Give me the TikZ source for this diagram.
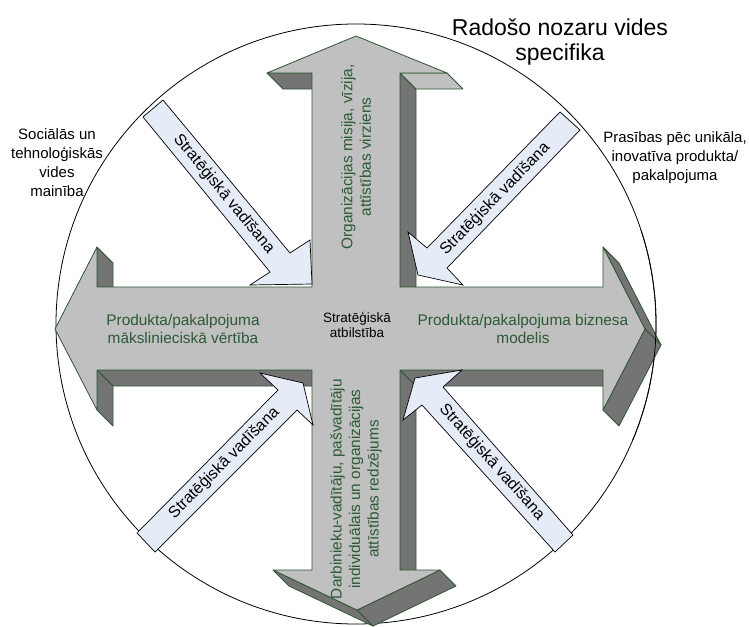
\documentclass[tikz,border=0pt]{standalone}
\usepackage{fontspec}
\setmainfont{Liberation Sans}
\definecolor{facelight}{HTML}{C0C0C0}
\definecolor{facedark}{HTML}{747474}
\definecolor{edgegreen}{HTML}{2F5535}
\definecolor{textgreen}{HTML}{2C5A36}
\definecolor{guideblue}{HTML}{E6ECF7}
\begin{document}
\begin{tikzpicture}[x=1pt,y=-1pt,
  front/.style={fill=facelight, draw=edgegreen, line width=0.8pt, line join=round},
  side/.style={fill=facedark, draw=edgegreen, line width=0.8pt, line join=round},
  sidelight/.style={fill=facelight, draw=edgegreen, line width=0.8pt, line join=round},
  guide/.style={fill=guideblue, draw=black, line width=0.7pt, line join=miter},
  ring/.style={draw=black, line width=0.8pt},
  guidelabel/.style={font=\fontsize{16}{19}\selectfont, inner sep=0pt},
  greenlabel/.style={text=textgreen, font=\fontsize{15.4}{18.5}\selectfont, align=center, inner sep=0pt},
  plainlabel/.style={font=\fontsize{15}{19}\selectfont, align=center, inner sep=0pt}]

\useasboundingbox (0,0) rectangle (749,626);

% outer circle
\draw[ring] (356,324) circle[radius=300];

% --- side faces of the extruded cross (offset 16,16) ---
% upper arrow: head undersides and right side of the shaft
\draw[side] (400,73) -- (416,89) -- (416,303) -- (400,287) -- cycle;
\draw[side] (267,73) -- (312,73) -- (328,89) -- (283,89) -- cycle;
\draw[sidelight] (400,73) -- (447,73) -- (463,89) -- (416,89) -- cycle;
% left arrow
\draw[side] (97,247) -- (113,263) -- (113,303) -- (97,287) -- cycle;
\draw[side] (97,370) -- (312,370) -- (328,386) -- (113,386) -- cycle;
\draw[side] (97,370) -- (97,410) -- (113,426) -- (113,386) -- cycle;
% lower arrow shaft
\draw[side] (400,370) -- (416,386) -- (416,586) -- (400,570) -- cycle;
% right arrow
\draw[side] (400,370) -- (603,370) -- (619,386) -- (416,386) -- cycle;
\draw[side] (603,247) -- (645,329) -- (661,345) -- (619,263) -- cycle;
\draw[side] (645,329) -- (603,410) -- (619,426) -- (661,345) -- cycle;
% lower arrow head
\draw[side] (273,570) -- (357,610) -- (373,626) -- (289,586) -- cycle;
\draw[side] (357,610) -- (440,570) -- (456,586) -- (373,626) -- cycle;

% the ring passes over the right arrow head
\begin{scope}
  \clip (620,230) rectangle (690,440);
  \draw[ring] (356,324) circle[radius=300];
\end{scope}

% --- front face of the cross ---
\draw[front] (356,36) -- (447,73) -- (400,73) -- (400,287) -- (603,287) -- (603,247)
  -- (645,329) -- (603,410) -- (603,370) -- (400,370) -- (400,570) -- (440,570)
  -- (357,610) -- (273,570) -- (312,570) -- (312,370) -- (97,370) -- (97,410)
  -- (55,329) -- (97,247) -- (97,287) -- (312,287) -- (312,73) -- (267,73) -- cycle;

% --- diagonal guidance arrows ---
\draw[guide] (163,100) -- (290,253) -- (310,240) -- (312,284) -- (250,285) -- (270,272) -- (143,117) -- cycle;
\draw[guide] (560,112) -- (427,248) -- (408,232) -- (418,275) -- (463,285) -- (447,268) -- (580,130) -- cycle;
\draw[guide] (137,533) -- (278,390) -- (260,373) -- (303,383) -- (313,425) -- (297,410) -- (155,552) -- cycle;
\draw[guide] (555,552) -- (422,405) -- (403,420) -- (415,378) -- (462,370) -- (443,387) -- (573,535) -- cycle;

\node[guidelabel, rotate=-50.5] (gtl) at (224,194) {Stratēģiskā vadīšana};
\node[guidelabel, rotate=45.8]  (gtr) at (495,199) {Stratēģiskā vadīšana};
\node[guidelabel, rotate=45.2]  (gbl) at (224,463) {Stratēģiskā vadīšana};
\node[guidelabel, rotate=-48.3] (gbr) at (492,462) {Stratēģiskā vadīšana};

% --- labels on the cross ---
\node[greenlabel] (leftlbl) at (183,329) {Produkta/pakalpojuma\\mākslinieciskā vērtība};
\node[greenlabel] (rightlbl) at (523,329) {Produkta/pakalpojuma biznesa\\modelis};
\node[greenlabel, rotate=90] (toplbl) at (356,157) {Organizācijas misija, vīzija,\\attīstības virziens};
\node[greenlabel, rotate=90] (botlbl) at (356,489) {Darbinieku-vadītāju, pašvadītāju\\individuālais un organizācijas\\attīstības redzējums};
\node[font=\fontsize{13.5}{15.5}\selectfont, align=center, inner sep=0pt] (centerlbl) at (357,325) {Stratēģiskā\\atbilstība};

% --- surrounding context labels ---
\node[font=\fontsize{23}{25}\selectfont, align=center, inner sep=0pt] (title) at (560,42) {Radošo nozaru vides\\specifika};
\node[plainlabel] (social) at (57,163) {Sociālās un\\tehnoloģiskās\\vides\\mainība};
\node[plainlabel] (demand) at (675,158) {Prasības pēc unikāla,\\inovatīva produkta/\\pakalpojuma};

\end{tikzpicture}
\end{document}
